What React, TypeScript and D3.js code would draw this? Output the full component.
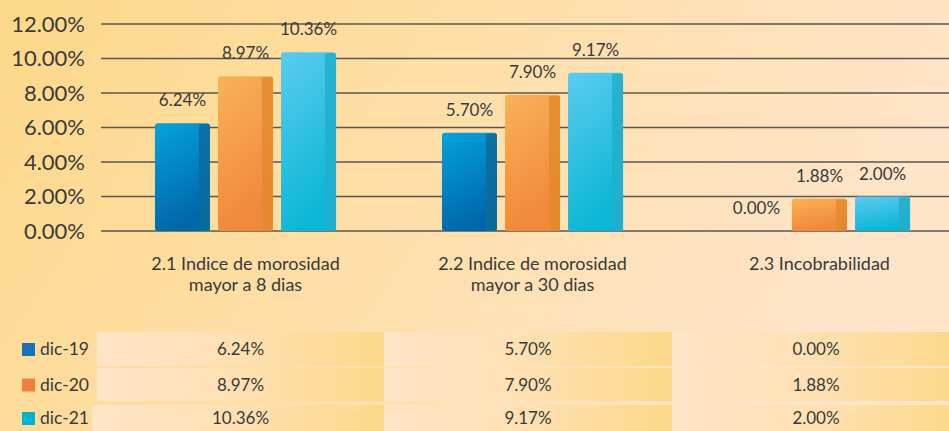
import React from "react";
import * as d3 from "d3";

const categories = [
  ["2.1 Indice de morosidad", "mayor a 8 dias"],
  ["2.2 Indice de morosidad", "mayor a 30 dias"],
  ["2.3 Incobrabilidad"],
];
const series = ["dic-19", "dic-20", "dic-21"];
const values = [
  [0.0624, 0.057, 0.0],
  [0.0897, 0.079, 0.0188],
  [0.1036, 0.0917, 0.02],
];
const yTicks = [0, 0.02, 0.04, 0.06, 0.08, 0.1, 0.12];

const barColors = [
  { top: "#05a3dd", bottom: "#0067a9", side: "#0b6b9c", key: "#1a6fb8" },
  { top: "#f8b257", bottom: "#f1883a", side: "#e3892f", key: "#f07f3c" },
  { top: "#5ccbf0", bottom: "#0ab7d6", side: "#22aecb", key: "#00b4d0" },
];

const W = 949;
const H = 431;
const font = "Lato, 'Noto Sans', sans-serif";
const pct = (v: number) => (v * 100).toFixed(2) + "%";

export default function App() {
  const x = d3
    .scaleBand<number>()
    .domain(d3.range(categories.length))
    .range([102, 963]);
  const inner = d3
    .scaleBand<number>()
    .domain(d3.range(series.length))
    .range([0, x.bandwidth()])
    .paddingInner(0.127)
    .paddingOuter(0.84);
  const y = d3.scaleLinear().domain([0, 0.12]).range([231, 24]);
  const bw = inner.bandwidth();
  const side = 11;

  const colX = [97, 384, 672, 960];
  const rows = [
    [332, 366],
    [368, 401],
    [405, 440],
  ];
  const rowMid = (r: number[]) => (r[0] + Math.min(r[1], 431)) / 2;

  return (
    <svg
      width={W}
      height={H}
      style={{ position: "absolute", left: 0, top: 0 }}
      fontFamily={font}
    >
      <defs>
        <linearGradient id="bg" x1="0" y1="0" x2="1" y2="0.3">
          <stop offset="0" stopColor="#fdd889" />
          <stop offset="0.5" stopColor="#fedfa9" />
          <stop offset="1" stopColor="#fee4c9" />
        </linearGradient>
        <linearGradient id="cell" x1="0" y1="0" x2="1" y2="0">
          <stop offset="0" stopColor="#ffe5c8" />
          <stop offset="0.5" stopColor="#fee0b2" />
          <stop offset="1" stopColor="#fdd889" />
        </linearGradient>
        {barColors.map((c, i) => (
          <linearGradient key={i} id={"bar" + i} x1="0" y1="0" x2="0.3" y2="1">
            <stop offset="0" stopColor={c.top} />
            <stop offset="1" stopColor={c.bottom} />
          </linearGradient>
        ))}
      </defs>
      <rect width={W} height={H} fill="url(#bg)" />

      {yTicks.map((t) => (
        <g key={t}>
          <line
            x1={101}
            x2={W}
            y1={y(t)}
            y2={y(t)}
            stroke="#5a5650"
            strokeWidth={1.6}
          />
          <text
            x={85}
            y={y(t)}
            dy="0.36em"
            textAnchor="end"
            fontSize={22}
            fill="#3a3a3a"
          >
            {pct(t)}
          </text>
        </g>
      ))}

      {categories.map((cat, ci) =>
        series.map((s, si) => {
          const v = values[si][ci];
          const x0 = (x(ci) as number) + (inner(si) as number);
          const y0 = y(v);
          const h = y(0) - y0;
          return (
            <g key={ci + "-" + si}>
              {v > 0 && (
                <g>
                  <rect
                    x={x0}
                    y={y0}
                    width={bw}
                    height={h}
                    rx={3}
                    fill={"url(#bar" + si + ")"}
                  />
                  <rect
                    x={x0 + bw - side}
                    y={y0 + 1}
                    width={side}
                    height={h - 1}
                    rx={2}
                    fill={barColors[si].side}
                    opacity={0.85}
                  />
                </g>
              )}
              <text
                x={x0 + bw / 2}
                y={y0 - 17}
                textAnchor="middle"
                fontSize={17}
                fill="#3a3a3a"
              >
                {pct(v)}
              </text>
            </g>
          );
        })
      )}

      {categories.map((cat, ci) => (
        <text
          key={ci}
          x={(x(ci) as number) + x.bandwidth() / 2}
          y={270}
          textAnchor="middle"
          fontSize={18}
          fill="#3a3a3a"
        >
          {cat.map((line, li) => (
            <tspan
              key={li}
              x={(x(ci) as number) + x.bandwidth() / 2}
              dy={li === 0 ? 0 : 21}
            >
              {line}
            </tspan>
          ))}
        </text>
      ))}

      {series.map((s, si) => (
        <g key={s}>
          <rect
            x={22}
            y={rowMid(rows[si]) - 6}
            width={13}
            height={13}
            fill={barColors[si].key}
          />
          <text
            x={40}
            y={rowMid(rows[si])}
            dy="0.36em"
            fontSize={17.5}
            fill="#3a3a3a"
          >
            {s}
          </text>
          {categories.map((c, ci) => {
            const left = si === 2 && ci === 0 ? 92 : colX[ci];
            return (
              <g key={ci}>
                <rect
                  x={left}
                  y={rows[si][0]}
                  width={colX[ci + 1] - left}
                  height={rows[si][1] - rows[si][0]}
                  fill="url(#cell)"
                />
                <text
                  x={(colX[ci] + colX[ci + 1]) / 2}
                  y={rowMid(rows[si])}
                  dy="0.36em"
                  textAnchor="middle"
                  fontSize={17}
                  fill="#3a3a3a"
                >
                  {pct(values[si][ci])}
                </text>
              </g>
            );
          })}
        </g>
      ))}
    </svg>
  );
}
